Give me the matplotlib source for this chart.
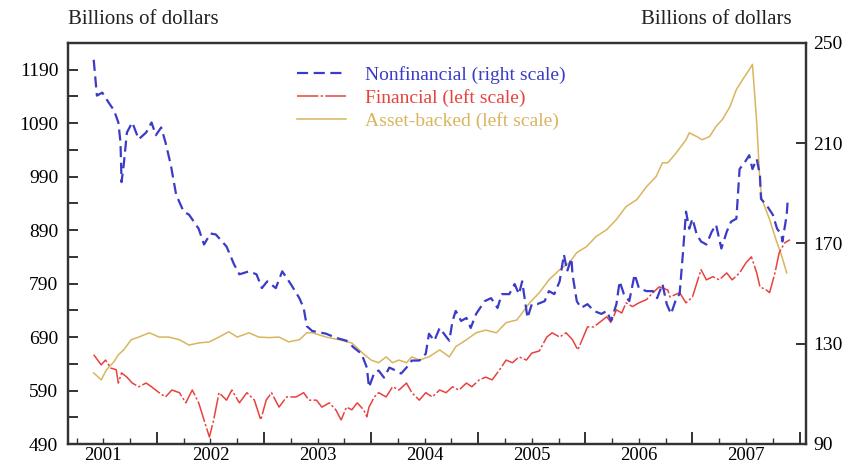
import matplotlib.pyplot as plt

plt.rcParams['font.family'] = ['Liberation Serif', 'DejaVu Serif']

# Nonfinancial commercial paper, billions (right scale)
nf_t = [2001.41, 2001.44, 2001.49, 2001.55, 2001.60, 2001.64, 2001.66, 2001.67, 2001.69, 2001.72,
        2001.77, 2001.83, 2001.90, 2001.95, 2001.99, 2002.04, 2002.08, 2002.13, 2002.18, 2002.25,
        2002.30, 2002.39, 2002.44, 2002.50, 2002.55, 2002.65, 2002.72, 2002.77, 2002.86, 2002.93,
        2002.98, 2003.03, 2003.11, 2003.17, 2003.25, 2003.33, 2003.37, 2003.40, 2003.45, 2003.58,
        2003.67, 2003.77, 2003.84, 2003.91, 2003.96, 2003.98, 2004.03, 2004.07, 2004.12, 2004.17,
        2004.23, 2004.28, 2004.33, 2004.38, 2004.45, 2004.51, 2004.54, 2004.59, 2004.64, 2004.68,
        2004.73, 2004.76, 2004.79, 2004.84, 2004.89, 2004.93, 2004.98, 2005.06, 2005.12, 2005.18,
        2005.22, 2005.29, 2005.34, 2005.38, 2005.41, 2005.46, 2005.50, 2005.55, 2005.62, 2005.66,
        2005.71, 2005.76, 2005.80, 2005.83, 2005.87, 2005.88, 2005.92, 2005.96, 2006.02, 2006.08,
        2006.15, 2006.20, 2006.24, 2006.29, 2006.32, 2006.36, 2006.41, 2006.46, 2006.50, 2006.57,
        2006.63, 2006.67, 2006.72, 2006.76, 2006.80, 2006.85, 2006.88, 2006.91, 2006.94, 2006.97,
        2007.00, 2007.04, 2007.08, 2007.13, 2007.18, 2007.22, 2007.27, 2007.32, 2007.36, 2007.41,
        2007.44, 2007.49, 2007.53, 2007.56, 2007.60, 2007.63, 2007.64, 2007.69, 2007.75, 2007.79,
        2007.83, 2007.84, 2007.88, 2007.89]
nf_v = [243.3, 229.0, 230.2, 226.2, 223.1, 218.3, 210.4, 194.5, 201.3, 214.3,
        218.3, 211.6, 214.3, 218.3, 213.2, 216.3, 210.4, 201.3, 189.4, 182.7,
        181.5, 175.9, 169.6, 174.0, 173.6, 168.8, 161.7, 157.7, 158.9, 157.7,
        152.2, 154.9, 152.2, 158.9, 153.8, 148.2, 144.3, 137.0, 135.1, 134.0,
        132.4, 131.2, 128.4, 126.0, 120.5, 112.6, 118.5, 119.3, 116.5, 120.5,
        119.3, 118.1, 120.5, 123.3, 123.3, 126.0, 134.0, 131.2, 136.3, 134.0,
        131.2, 139.1, 143.1, 139.1, 140.3, 136.3, 141.9, 147.0, 148.2, 144.3,
        149.8, 149.8, 153.8, 149.8, 154.9, 140.3, 145.8, 145.8, 147.0, 151.0,
        149.8, 154.9, 165.6, 158.9, 164.1, 157.7, 147.0, 144.3, 145.8, 143.1,
        141.9, 143.1, 139.1, 145.8, 154.9, 149.8, 147.0, 157.7, 152.2, 151.0,
        151.0, 148.2, 153.8, 145.8, 141.9, 148.2, 149.8, 165.6, 182.7, 175.9,
        179.9, 173.6, 170.8, 169.6, 174.7, 177.5, 168.0, 174.7, 178.7, 179.9,
        199.7, 202.5, 205.2, 199.7, 203.7, 197.3, 187.8, 185.4, 181.5, 175.9,
        173.6, 170.8, 181.5, 187.8]

# Financial commercial paper, billions (left scale)
fin_t = [2001.41, 2001.48, 2001.52, 2001.57, 2001.62, 2001.64, 2001.67, 2001.72, 2001.77, 2001.83,
         2001.90, 2001.95, 2002.02, 2002.08, 2002.14, 2002.21, 2002.27, 2002.33, 2002.39, 2002.44,
         2002.49, 2002.53, 2002.58, 2002.65, 2002.70, 2002.77, 2002.84, 2002.91, 2002.97, 2003.02,
         2003.07, 2003.14, 2003.21, 2003.30, 2003.37, 2003.42, 2003.49, 2003.54, 2003.61, 2003.67,
         2003.72, 2003.77, 2003.82, 2003.87, 2003.93, 2003.96, 2003.98, 2004.03, 2004.07, 2004.14,
         2004.20, 2004.26, 2004.33, 2004.38, 2004.45, 2004.51, 2004.57, 2004.64, 2004.70, 2004.76,
         2004.82, 2004.89, 2004.94, 2005.01, 2005.07, 2005.13, 2005.20, 2005.26, 2005.32, 2005.38,
         2005.45, 2005.50, 2005.57, 2005.64, 2005.69, 2005.76, 2005.82, 2005.88, 2005.93, 2005.97,
         2006.02, 2006.08, 2006.13, 2006.20, 2006.24, 2006.29, 2006.34, 2006.38, 2006.44, 2006.50,
         2006.57, 2006.63, 2006.69, 2006.77, 2006.79, 2006.88, 2006.94, 2007.00, 2007.05, 2007.08,
         2007.13, 2007.19, 2007.25, 2007.32, 2007.37, 2007.44, 2007.50, 2007.55, 2007.60, 2007.63,
         2007.69, 2007.72, 2007.77, 2007.81, 2007.86, 2007.91]
fin_v = [657, 638, 647, 632, 629, 604, 623, 615, 604, 597,
         604, 597, 586, 578, 591, 586, 567, 591, 567, 535,
         503, 535, 586, 572, 591, 567, 586, 572, 535, 572,
         586, 559, 578, 578, 586, 572, 572, 559, 567, 554,
         535, 559, 554, 567, 554, 541, 559, 578, 586, 578,
         597, 591, 604, 586, 572, 586, 578, 591, 586, 597,
         591, 604, 597, 610, 615, 610, 629, 647, 642, 653,
         647, 660, 664, 690, 698, 690, 698, 685, 666, 685,
         709, 709, 717, 728, 717, 741, 735, 754, 747, 754,
         760, 773, 784, 778, 765, 773, 754, 765, 797, 816,
         797, 803, 797, 810, 797, 810, 829, 840, 810, 784,
         778, 773, 810, 848, 866, 872]

# Asset-backed commercial paper, billions (left scale)
abs_t = [2001.41, 2001.48, 2001.53, 2001.60, 2001.64, 2001.69, 2001.76, 2001.83, 2001.93, 2002.02,
         2002.11, 2002.21, 2002.30, 2002.39, 2002.49, 2002.58, 2002.67, 2002.75, 2002.86, 2002.95,
         2003.05, 2003.14, 2003.23, 2003.33, 2003.40, 2003.45, 2003.58, 2003.70, 2003.82, 2003.92,
         2004.00, 2004.07, 2004.14, 2004.20, 2004.26, 2004.33, 2004.38, 2004.45, 2004.54, 2004.64,
         2004.73, 2004.79, 2004.89, 2004.98, 2005.07, 2005.17, 2005.26, 2005.36, 2005.41, 2005.48,
         2005.57, 2005.66, 2005.76, 2005.85, 2005.92, 2006.01, 2006.10, 2006.20, 2006.29, 2006.38,
         2006.48, 2006.57, 2006.66, 2006.72, 2006.77, 2006.85, 2006.94, 2006.97, 2007.04, 2007.09,
         2007.16, 2007.22, 2007.28, 2007.35, 2007.41, 2007.47, 2007.53, 2007.56, 2007.60, 2007.63,
         2007.65, 2007.72, 2007.78, 2007.83, 2007.88]
abs_v = [623, 610, 629, 644, 657, 666, 685, 690, 698, 690,
         690, 685, 675, 679, 681, 690, 700, 690, 698, 690,
         689, 690, 681, 685, 698, 698, 690, 685, 679, 660,
         647, 642, 653, 642, 647, 642, 653, 647, 653, 666,
         653, 672, 685, 698, 703, 698, 717, 722, 735, 754,
         773, 797, 816, 829, 848, 859, 878, 891, 910, 934,
         947, 971, 990, 1016, 1016, 1035, 1059, 1072, 1065, 1059,
         1065, 1084, 1097, 1121, 1153, 1172, 1190, 1200, 1091, 979,
         947, 910, 872, 844, 810]

years = [2001, 2002, 2003, 2004, 2005, 2006, 2007]
left_ticks = [490, 590, 690, 790, 890, 990, 1090, 1190]
right_ticks = [90, 130, 170, 210, 250]

BLUE = '#3b3bc6'
RED = '#e8423e'
GOLD = '#d9b55e'
DARK = '#333333'

fig = plt.figure(figsize=(8.64, 4.63), dpi=100)
ax = fig.add_axes([68 / 864, 19 / 463, (806 - 68) / 864, (444 - 43) / 463])
ax2 = ax.twinx()

l_abs, = ax.plot(abs_t, abs_v, color=GOLD, lw=1.1, label='Asset-backed (left scale)')
l_fin, = ax.plot(fin_t, fin_v, color=RED, lw=1.1, ls=(0, (14, 1.5, 1.5, 1.5)),
                 label='Financial (left scale)')
l_nf, = ax2.plot(nf_t, nf_v, color=BLUE, lw=1.6, ls=(0, (5, 2.5)),
                 label='Nonfinancial (right scale)')

ax.set_xlim(2001.17, 2008.06)
ax.set_ylim(490, 1240)
ax2.set_ylim(90, 250)

# year boundaries = long ticks, quarters = short ticks, labels mid-year
ax.set_xticks([y + 1 for y in years[:-1]] + [2008])
ax.set_xticklabels([])
quarters = [2001.25 + 0.25 * i for i in range(28)]
ax.set_xticks(quarters, minor=True)
ax.set_xticklabels([str(int(q)) if abs(q - int(q) - 0.5) < 1e-6 else '' for q in quarters],
                   minor=True)

lt = list(range(490, 1241, 50))
ax.set_yticks(lt)
ax.set_yticklabels([str(v) if v in left_ticks else '' for v in lt])
ax2.set_yticks(right_ticks)
ax2.set_yticklabels([str(v) for v in right_ticks])

for a in (ax, ax2):
    for s in a.spines.values():
        s.set_color(DARK)
        s.set_linewidth(1.6)

ax.tick_params(axis='x', which='major', direction='in', length=9, width=1.4,
               color=DARK, pad=2, labelsize=13.5)
ax.tick_params(axis='x', which='minor', direction='in', length=4.5, width=1.0,
               color=DARK, pad=2, labelsize=13.5)
ax.tick_params(axis='y', direction='in', length=7, width=1.4, color=DARK,
               pad=7, labelsize=14)
ax2.tick_params(axis='y', direction='in', length=7, width=1.4, color=DARK,
                pad=5, labelsize=14)

fig.text(68 / 864, 1 - 20 / 463, 'Billions of dollars', fontsize=15,
         ha='left', va='center', color='#222222')
fig.text(792 / 864, 1 - 20 / 463, 'Billions of dollars', fontsize=15,
         ha='right', va='center', color='#222222')

ax2.legend([l_nf, l_fin, l_abs],
           [l_nf.get_label(), l_fin.get_label(), l_abs.get_label()],
           loc='upper left', bbox_to_anchor=(297 / 864, 1 - 66 / 463),
           bbox_transform=fig.transFigure, frameon=False, fontsize=14,
           handlelength=2.5, handletextpad=1.0, labelspacing=0.25,
           borderpad=0, borderaxespad=0, labelcolor='linecolor')

fig.savefig('out.png', dpi=100)
